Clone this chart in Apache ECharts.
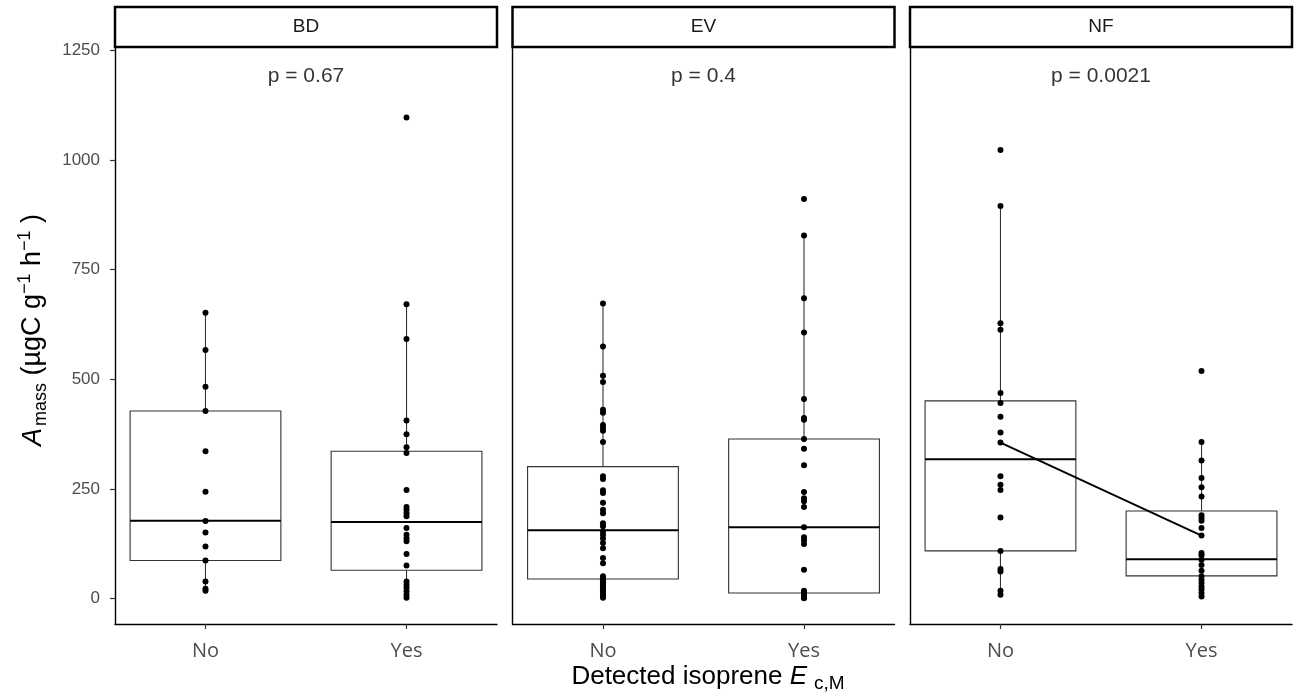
<!DOCTYPE html>
<html><head><meta charset="utf-8">
<script src="https://cdn.jsdelivr.net/npm/echarts@6/dist/echarts.min.js"></script>
<style>html,body{margin:0;padding:0;background:#fff}#c{width:1299px;height:700px}</style>
</head><body><div id="c"></div>
<script>
// ---------- data ----------
const panels = ['BD', 'EV', 'NF'];
const groups = ['No', 'Yes'];
const pLabels = ['p = 0.67', 'p = 0.4', 'p = 0.0021'];
const pLabelY = 1191;
const yTicks = [0, 250, 500, 750, 1000, 1250];

const bdNo  = [652, 567, 483, 428, 336, 244, 177, 151, 119, 87, 39, 23, 18];
const bdYes = [1097, 671, 592, 406, 375, 345, 332, 248, 209, 203, 195, 188, 161, 146, 138, 131, 102, 76, 39, 32, 25, 17, 9, 2];
const evNo  = [673, 575, 508, 494, 431, 424, 396, 389, 383, 357, 279, 273, 247, 241, 219, 203, 195, 172, 165, 153, 146, 137, 127, 115, 93, 81, 51, 48, 46, 44, 41, 38, 34, 30, 26, 21, 16, 11, 6, 2];
const evYes = [911, 828, 685, 607, 455, 412, 408, 364, 342, 304, 243, 229, 222, 209, 163, 140, 133, 125, 66, 18, 15, 13, 11, 9, 7, 5, 4, 2, 1];
const nfNo  = [1023, 895, 628, 613, 469, 446, 415, 379, 356, 279, 260, 248, 185, 109, 68, 62, 18, 9];
const nfYes = [519, 357, 315, 275, 254, 233, 190, 184, 178, 161, 144, 104, 99, 89, 77, 64, 51, 43, 36, 28, 21, 13, 5];

// box stats: [lower whisker, Q1, median, Q3, upper whisker]
const bdNoBox  = [18, 87, 178, 428, 652];
const bdYesBox = [2, 65, 175, 336, 671];
const evNoBox  = [2, 45, 156, 301, 673];
const evYesBox = [1, 13, 163, 364, 828];
const nfNoBox  = [9, 109, 318, 451, 895];
const nfYesBox = [5, 52, 90, 200, 357];

const nfMeans = [356, 144];

// ---------- build ----------
const points = [[bdNo, bdYes], [evNo, evYes], [nfNo, nfYes]];
const boxes = [[bdNoBox, bdYesBox], [evNoBox, evYesBox], [nfNoBox, nfYesBox]];

const panelLeft = [115, 512.5, 910];
const panelW = 382;
const panelTop = 47;
const panelH = 577;
const FONT = '"Liberation Sans", Arial, sans-serif';

const grids = [], xAxes = [], yAxes = [], series = [], graphics = [];

panels.forEach((name, i) => {
  grids.push({left: panelLeft[i], top: panelTop, width: panelW, height: panelH});
  xAxes.push({
    type: 'value', gridIndex: i, min: 0.55, max: 2.45,
    axisLine: {show: true, onZero: false, lineStyle: {color: '#000', width: 1.4}},
    axisTick: {show: true, customValues: [1, 2], length: 5, lineStyle: {color: '#333', width: 1.2}},
    axisLabel: {show: true, customValues: [1, 2], formatter: v => groups[Math.round(v) - 1],
      color: '#4D4D4D', fontSize: 20, fontFamily: '"Open Sans", sans-serif', margin: 17},
    splitLine: {show: false}
  });
  yAxes.push({
    type: 'value', gridIndex: i, min: -57.6, max: 1257.5,
    axisLine: {show: true, onZero: false, lineStyle: {color: '#000', width: 1.4}},
    axisTick: {show: i === 0, customValues: yTicks, length: 5, lineStyle: {color: '#333', width: 1.2}},
    axisLabel: {show: i === 0, customValues: yTicks, formatter: v => String(v),
      color: '#4D4D4D', fontSize: 17, fontFamily: FONT, margin: 15},
    splitLine: {show: false}
  });

  series.push({
    type: 'custom', xAxisIndex: i, yAxisIndex: i, silent: true, z: 2,
    dimensions: ['x', 'lo', 'q1', 'med', 'q3', 'hi'],
    encode: {x: 0, y: [1, 2, 3, 4, 5]},
    data: boxes[i].map((b, k) => [k + 1].concat(b)),
    renderItem: function (params, api) {
      const x = api.value(0);
      const lo = api.coord([x, api.value(1)]);
      const q1 = api.coord([x, api.value(2)]);
      const md = api.coord([x, api.value(3)]);
      const q3 = api.coord([x, api.value(4)]);
      const hi = api.coord([x, api.value(5)]);
      const L = api.coord([x - 0.375, 0])[0];
      const R = api.coord([x + 0.375, 0])[0];
      const st = {stroke: '#333', lineWidth: 1.1, fill: null};
      return {type: 'group', children: [
        {type: 'line', shape: {x1: hi[0], y1: hi[1], x2: q3[0], y2: q3[1]}, style: st},
        {type: 'line', shape: {x1: q1[0], y1: q1[1], x2: lo[0], y2: lo[1]}, style: st},
        {type: 'rect', shape: {x: L, y: q3[1], width: R - L, height: q1[1] - q3[1]},
          style: {stroke: '#333', lineWidth: 1.1, fill: '#fff'}},
        {type: 'line', shape: {x1: L, y1: md[1], x2: R, y2: md[1]}, style: {stroke: '#000', lineWidth: 2}}
      ]};
    }
  });

  series.push({
    type: 'scatter', xAxisIndex: i, yAxisIndex: i, z: 3, silent: true,
    symbol: 'circle', symbolSize: 6, itemStyle: {color: '#000', opacity: 1},
    data: points[i][0].map(v => [1, v]).concat(points[i][1].map(v => [2, v]))
  });

  series.push({
    type: 'scatter', xAxisIndex: i, yAxisIndex: i, z: 5, silent: true,
    symbolSize: 0, data: [[1.5, pLabelY]],
    label: {show: true, position: 'inside', formatter: pLabels[i], color: '#000', fontSize: 21, fontFamily: FONT}
  });

  graphics.push({
    type: 'rect', shape: {x: panelLeft[i], y: 7, width: panelW, height: 40},
    style: {fill: '#fff', stroke: '#000', lineWidth: 2.5}, z: 10
  });
  graphics.push({
    type: 'text', x: panelLeft[i] + panelW / 2, y: 27, z: 11,
    style: {text: name, fill: '#1A1A1A', fontSize: 19, fontFamily: FONT, align: 'center', verticalAlign: 'middle'}
  });
});

series.push({
  type: 'line', xAxisIndex: 2, yAxisIndex: 2, z: 4, silent: true,
  symbol: 'none', lineStyle: {color: '#000', width: 2},
  data: nfMeans.map((v, k) => [k + 1, v])
});

// axis titles
graphics.push({
  type: 'text', x: 708, y: 677, z: 11,
  style: {
    text: '{n|Detected isoprene }{i|E}{s|c,M}',
    align: 'center', verticalAlign: 'middle',
    rich: {
      n: {fontSize: 26, fontFamily: FONT, fill: '#000', lineHeight: 32},
      i: {fontSize: 26, fontFamily: FONT, fontStyle: 'italic', fill: '#000', lineHeight: 32},
      s: {fontSize: 19, fontFamily: FONT, fill: '#000', verticalAlign: 'bottom', lineHeight: 20, padding: [0, 0, 0, 7]}
    }
  }
});
graphics.push({
  type: 'text', x: 33, y: 330, rotation: Math.PI / 2, z: 11,
  style: {
    text: '{i|A}{s|mass}{n| (µgC g}{p|−1}{n| h}{p|−1}{n| )}',
    align: 'center', verticalAlign: 'middle',
    rich: {
      n: {fontSize: 27, fontFamily: FONT, fill: '#000', lineHeight: 34},
      i: {fontSize: 27, fontFamily: FONT, fontStyle: 'italic', fill: '#000', lineHeight: 34},
      s: {fontSize: 18, fontFamily: FONT, fill: '#000', verticalAlign: 'bottom', lineHeight: 19, padding: [0, 0, 0, 2]},
      p: {fontSize: 18, fontFamily: FONT, fill: '#000', verticalAlign: 'top', lineHeight: 19}
    }
  }
});

const chart = echarts.init(document.getElementById('c'), null, {renderer: 'canvas'});
chart.setOption({
  animation: false,
  backgroundColor: '#fff',
  grid: grids, xAxis: xAxes, yAxis: yAxes, series: series, graphic: graphics
});
</script>
</body></html>
